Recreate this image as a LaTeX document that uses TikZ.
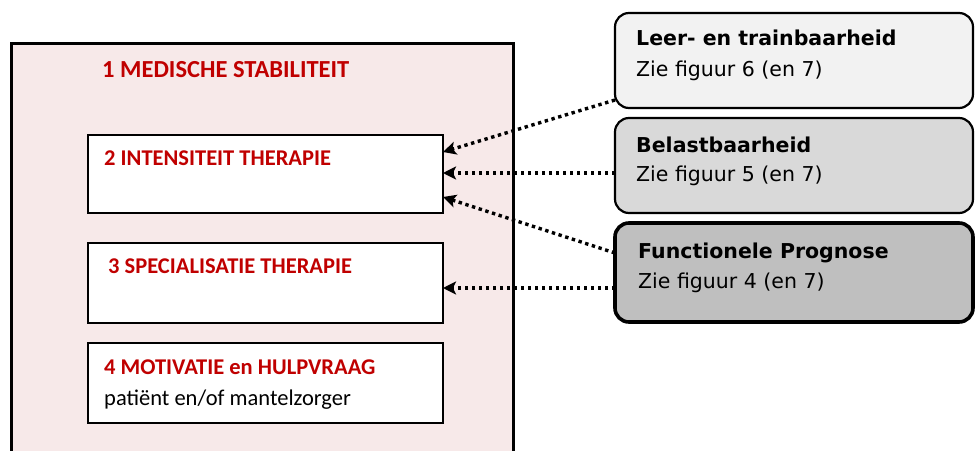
\documentclass[tikz,border=0pt]{standalone}
\usepackage{fontspec}
\setmainfont{Carlito}
\newfontfamily\verd{DejaVu Sans}
\usetikzlibrary{arrows.meta}
\definecolor{redt}{HTML}{C00000}
\definecolor{pinkf}{HTML}{F7E9E9}
\definecolor{gA}{HTML}{F2F2F2}
\definecolor{gB}{HTML}{D9D9D9}
\definecolor{gC}{HTML}{BFBFBF}
\tikzset{
  whitebox/.style={draw=black, line width=2.2pt, fill=white},
  roundbox/.style={draw=black, line width=2.2pt, rounded corners=14pt},
  redlabel/.style={anchor=base west, inner sep=0pt, text=redt, font=\fontsize{22.5}{26}\selectfont\bfseries},
  titlelabel/.style={anchor=base west, inner sep=0pt, text=redt, font=\fontsize{24.5}{28}\selectfont\bfseries},
  blacklabel/.style={anchor=base west, inner sep=0pt, font=\fontsize{22.5}{26}\selectfont},
  headlabel/.style={anchor=base west, inner sep=0pt, font=\verd\fontsize{20.5}{24}\selectfont\bfseries},
  sublabel/.style={anchor=base west, inner sep=0pt, font=\verd\fontsize{20.5}{24}\selectfont},
  dotarrow/.style={line width=3.4pt, dash pattern=on 3.4pt off 3.6pt, -{Stealth[length=13pt,width=13pt,inset=3pt]}},
}
\begin{document}
\begin{tikzpicture}[x=1pt,y=-1pt]
\useasboundingbox (0,0) rectangle (975,450);
% big box
\draw[line width=3pt, fill=pinkf] (11,43) rectangle (513,470);
\node[titlelabel] (t1) at (102,77) {1 MEDISCHE STABILITEIT};
% inner boxes
\draw[whitebox] (88,135) rectangle (443,213);
\coordinate (b2a) at (443,152);
\coordinate (b2b) at (443,173);
\coordinate (b2c) at (443,197);
\node[redlabel] (t2) at (104,165) {2 INTENSITEIT THERAPIE};
\draw[whitebox] (88,243) rectangle (443,323);
\coordinate (b3a) at (443,288);
\node[redlabel] (t3) at (108,273) {3 SPECIALISATIE THERAPIE};
\draw[whitebox] (88,343) rectangle (443,423);
\node[redlabel] (t4) at (104,374) {4 MOTIVATIE en HULPVRAAG};
\node[blacklabel] (t4b) at (104,405) {patiënt en/of mantelzorger};
% right boxes
\draw[roundbox, fill=gA] (615,13) rectangle (973,108);
\coordinate (ra) at (615,100);
\node[headlabel] (ha) at (636,45) {Leer- en trainbaarheid};
\node[sublabel] (sa) at (636,76) {Zie figuur 6 (en 7)};
\draw[roundbox, fill=gB] (615,118) rectangle (973,213);
\coordinate (rb) at (615,173);
\node[headlabel] (hb) at (636,152) {Belastbaarheid};
\node[sublabel] (sb) at (636,181) {Zie figuur 5 (en 7)};
\draw[roundbox, fill=gC, line width=3.6pt] (615,223) rectangle (973,322);
\coordinate (rc1) at (615,253);
\coordinate (rc2) at (615,288);
\node[headlabel] (hc) at (638,258) {Functionele Prognose};
\node[sublabel] (sc) at (638,288) {Zie figuur 4 (en 7)};
% arrows
\draw[dotarrow] (ra) -- (b2a);
\draw[dotarrow] (rb) -- (b2b);
\draw[dotarrow] (rc1) -- (b2c);
\draw[dotarrow] (rc2) -- (b3a);
\end{tikzpicture}
\end{document}
